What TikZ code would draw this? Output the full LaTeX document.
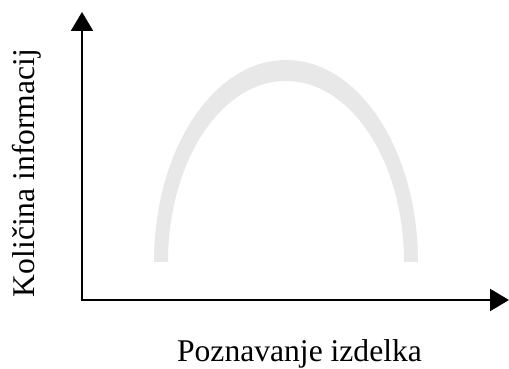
\documentclass[tikz,border=0pt]{standalone}
\usepackage{fontspec}
\setmainfont{Liberation Serif}
\usetikzlibrary{arrows.meta}
\definecolor{arcgray}{HTML}{E8E8E8}
\tikzset{
  axis/.style={line width=2.2pt,-{Triangle[length=19pt,width=22pt]}},
  lbl/.style={font=\fontsize{31.6}{36}\selectfont,inner sep=0pt,anchor=base}
}
\begin{document}
\begin{tikzpicture}[x=1pt,y=1pt]
\useasboundingbox (0,0) rectangle (509,369);
\fill[arcgray] (154,107) arc[start angle=180,end angle=0,x radius=132,y radius=202]
  -- (404,107) arc[start angle=0,end angle=180,x radius=118,y radius=181] -- cycle;
\coordinate (O) at (82,69);
\coordinate (ytip) at (82,357);
\coordinate (xtip) at (509,69);
\draw[axis] ([yshift=-1.1pt]O) -- (ytip);
\draw[axis] ([xshift=-1.1pt]O) -- (xtip);
\node[lbl] (xl) at (299.5,7) {Poznavanje izdelka};
\node[lbl,rotate=90] (yl) at (35,196) {Količina informacij};
\end{tikzpicture}
\end{document}
